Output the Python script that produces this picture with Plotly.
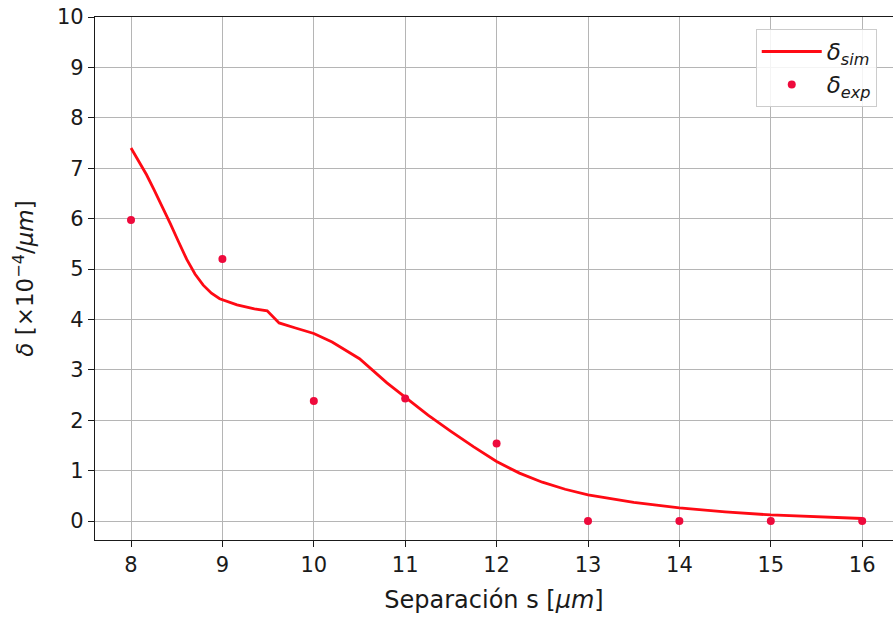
import plotly.graph_objects as go

# Simulated curve
s_sim = [8.0, 8.1, 8.17, 8.25, 8.34, 8.43, 8.52, 8.61, 8.7, 8.79, 8.88, 8.97, 9.16, 9.35,
         9.49, 9.62, 9.8, 10.0, 10.2, 10.5, 10.8, 11.0, 11.25, 11.5, 11.75, 12.0, 12.25,
         12.5, 12.75, 13.0, 13.5, 14.0, 14.5, 15.0, 15.5, 16.0]
d_sim = [7.40, 7.10, 6.87, 6.58, 6.25, 5.90, 5.54, 5.19, 4.90, 4.68, 4.52, 4.41, 4.29, 4.21,
         4.17, 3.93, 3.83, 3.72, 3.55, 3.22, 2.74, 2.45, 2.10, 1.78, 1.47, 1.18, 0.95,
         0.77, 0.63, 0.52, 0.37, 0.26, 0.18, 0.12, 0.08, 0.05]

# Measured points
s_exp = [8, 9, 10, 11, 12, 13, 14, 15, 16]
d_exp = [5.97, 5.20, 2.38, 2.43, 1.54, 0.0, 0.0, 0.0, 0.0]

x_ticks = [8, 9, 10, 11, 12, 13, 14, 15, 16]
y_ticks = [0, 1, 2, 3, 4, 5, 6, 7, 8, 9, 10]

FONT = "DejaVu Sans"
INK = "#1a1a1a"

fig = go.Figure()
fig.add_trace(go.Scatter(
    x=s_sim, y=d_sim, mode="lines",
    line=dict(color="#ff0a14", width=2.8),
    name="<i>δ<sub>sim</sub></i>",
))
fig.add_trace(go.Scatter(
    x=s_exp, y=d_exp, mode="markers",
    marker=dict(color="#ee0a3c", size=8),
    name="<i>δ<sub>exp</sub></i>",
))

axis_common = dict(
    showgrid=True, gridcolor="#b5b5b5", gridwidth=1.3,
    zeroline=False,
    showline=True, linecolor=INK, linewidth=1.3,
    ticks="outside", ticklen=6, tickwidth=1.2, tickcolor=INK,
    tickfont=dict(family=FONT, size=21, color=INK),
)

fig.update_layout(
    width=893, height=619,
    margin=dict(l=95, r=0, t=17, b=79),
    paper_bgcolor="white", plot_bgcolor="white",
    font=dict(family=FONT, color=INK),
    xaxis=dict(
        range=[7.606, 16.337], tickvals=x_ticks, mirror=True,
        title=dict(text="Separación s [<i>μm</i>]", font=dict(family=FONT, size=24), standoff=14),
        **axis_common,
    ),
    yaxis=dict(
        range=[-0.377, 10.0], tickvals=y_ticks,
        title=dict(text="<i>δ</i> [×10<sup>−4</sup>/<i>μm</i>]", font=dict(family=FONT, size=23), standoff=16),
        **axis_common,
    ),
    legend=dict(
        x=0.828, y=0.977, xanchor="left", yanchor="top",
        bgcolor="rgba(255,255,255,0.85)", bordercolor="#cccccc", borderwidth=1,
        font=dict(family=FONT, size=23, color=INK),
        itemwidth=60, tracegroupgap=8,
    ),
    showlegend=True,
)

fig.write_html("out.html")
